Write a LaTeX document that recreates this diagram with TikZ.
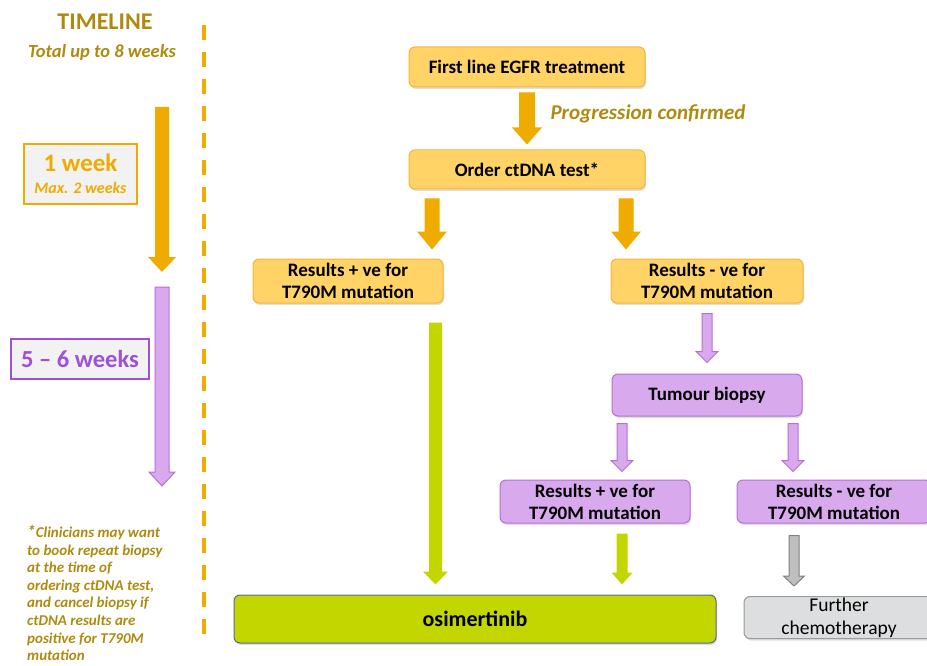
\documentclass[tikz,border=0pt]{standalone}
\usepackage{fontspec}
\setmainfont{Carlito}
\usepackage{tikz}
\usetikzlibrary{calc, shadows, positioning}

\definecolor{boxorange}{HTML}{FFD366}
\definecolor{lineorange}{HTML}{F5B43A}
\definecolor{arroworange}{HTML}{F0AB00}
\definecolor{goldtext}{HTML}{B08A0E}
\definecolor{boxpurple}{HTML}{D9A9EE}
\definecolor{linepurple}{HTML}{B570D8}
\definecolor{textpurple}{HTML}{A04FD6}
\definecolor{osigreen}{HTML}{C4D600}
\definecolor{osiline}{HTML}{4E6E8E}
\definecolor{boxgray}{HTML}{DDDEDF}
\definecolor{linegray}{HTML}{9A9A9A}
\definecolor{arrowgray}{HTML}{BFBFBF}
\definecolor{lightbg}{HTML}{F2F2F2}

% block arrow: style, start, tip, half shaft, half head, head length
\newcommand{\barrow}[6]{%
  \filldraw[#1] let \p1=(#2), \p2=(#3) in
    (\x1-#4,\y1) -- (\x1+#4,\y1) -- (\x1+#4,\y2+#6) -- (\x1+#5,\y2+#6)
    -- (\x1,\y2) -- (\x1-#5,\y2+#6) -- (\x1-#4,\y2+#6) -- cycle;}

\tikzset{
  flowbox/.style={rounded corners=6pt, line width=1pt, inner sep=0pt, align=center,
    font=\fontsize{19}{22}\selectfont\bfseries,
    drop shadow={shadow xshift=1pt, shadow yshift=-2pt, opacity=0.25}},
  obox/.style={flowbox, draw=lineorange, fill=boxorange},
  pbox/.style={flowbox, draw=linepurple, fill=boxpurple},
  oarrow/.style={fill=arroworange, draw=none},
  parrow/.style={fill=boxpurple, draw=linepurple, line width=1pt},
  garrow/.style={fill=osigreen, draw=none},
  grarrow/.style={fill=arrowgray, draw=gray, line width=1pt},
  weekbox/.style={fill=lightbg, line width=2pt, inner sep=0pt, align=center}
}

\begin{document}
\begin{tikzpicture}[x=1pt, y=-1pt]
  \useasboundingbox (0,0) rectangle (927,666);

  % timeline column
  \node[font=\fontsize{24}{26}\selectfont\bfseries, text=goldtext] (tl) at (105,22) {TIMELINE};
  \node[font=\fontsize{18.5}{20}\selectfont\bfseries\itshape, text=goldtext] (tot) at (102,52) {Total up to 8 weeks};
  \draw[arroworange, line width=3.5pt, dash pattern=on 15pt off 12pt] (204,25) -- (204,636);

  \coordinate (t1a) at (162,107);
  \coordinate (t1b) at (162,272);
  \coordinate (t2a) at (162,287);
  \coordinate (t2b) at (162,486);
  \barrow{oarrow}{t1a}{t1b}{7pt}{14pt}{15pt}
  \barrow{parrow}{t2a}{t2b}{7pt}{13pt}{14pt}

  \node[weekbox, draw=arroworange, text=arroworange, minimum width=113pt, minimum height=60pt,
    font=\fontsize{25}{22}\selectfont\bfseries] (wk1) at (80.5,174)
    {1 week\\{\fontsize{16}{18}\selectfont\itshape Max. 2 weeks}};
  \node[weekbox, draw=textpurple, text=textpurple, minimum width=138pt, minimum height=40pt,
    font=\fontsize{24.5}{26}\selectfont\bfseries] (wk2) at (80,359)
    {5 -- 6 weeks};

  \node[anchor=north west, align=left, inner sep=0pt, text=goldtext,
    font=\fontsize{15}{17.6}\selectfont\bfseries\itshape] (note) at (27,525)
    {{\LARGE *}Clinicians may want\\to book repeat biopsy\\at the time of\\ordering ctDNA test,\\and cancel biopsy if\\ctDNA results are\\positive for T790M\\mutation};

  % flow chart
  \node[obox, minimum width=236pt, minimum height=40pt] (first) at (527,67) {First line EGFR treatment};
  \node[obox, minimum width=236pt, minimum height=39pt] (order) at (527,169.5) {Order ctDNA test*};
  \node[obox, minimum width=190pt, minimum height=44pt] (rp1) at (348,281) {Results + ve for\\T790M mutation};
  \node[obox, minimum width=192pt, minimum height=44pt] (rn1) at (707,281) {Results - ve for\\T790M mutation};
  \node[pbox, minimum width=190pt, minimum height=42pt] (bio) at (707,395) {Tumour biopsy};
  \node[pbox, minimum width=190pt, minimum height=43pt] (rp2) at (595,501.5) {Results + ve for\\T790M mutation};
  \node[pbox, minimum width=194pt, minimum height=43pt] (rn2) at (834,501.5) {Results - ve for\\T790M mutation};
  \node[flowbox, draw=osiline, fill=osigreen, font=\fontsize{22}{24}\selectfont\bfseries,
    minimum width=482pt, minimum height=48pt] (osim) at (475,619) {osimertinib};
  \node[flowbox, draw=linegray, fill=boxgray, font=\fontsize{19.5}{23}\selectfont,
    minimum width=190pt, minimum height=42pt] (chemo) at (839,617.5) {Further\\chemotherapy};

  \node[font=\fontsize{21}{23}\selectfont\bfseries\itshape, text=goldtext, anchor=west] (prog) at (547,114) {Progression confirmed};

  \barrow{oarrow}{[yshift=-5pt]first.south}{[yshift=5pt]order.north}{8pt}{15pt}{17pt}
  \barrow{oarrow}{[xshift=-95pt,yshift=-9pt]order.south}{[yshift=9pt]rp1.north}{7.5pt}{15pt}{18pt}
  \barrow{oarrow}{[xshift=99pt,yshift=-9pt]order.south}{[yshift=9pt]rn1.north}{7.5pt}{15pt}{18pt}
  \barrow{garrow}{[xshift=87.5pt,yshift=-19pt]rp1.south}{[yshift=10pt]osim.north}{6.5pt}{12.5pt}{13pt}
  \barrow{parrow}{[yshift=-10pt]rn1.south}{[yshift=11pt]bio.north}{5pt}{11pt}{11pt}
  \barrow{parrow}{[xshift=-85pt,yshift=-7pt]bio.south}{[yshift=8pt]rp2.north}{5pt}{11pt}{11pt}
  \barrow{parrow}{[xshift=86pt,yshift=-7pt]bio.south}{[yshift=8pt]rn2.north}{5pt}{11pt}{11pt}
  \barrow{garrow}{[xshift=27pt,yshift=-10pt]rp2.south}{[yshift=10pt]osim.north}{5.5pt}{10.5pt}{12pt}
  \barrow{grarrow}{[xshift=-40pt,yshift=-12pt]rn2.south}{[yshift=10pt]chemo.north}{5pt}{10.5pt}{10pt}
\end{tikzpicture}
\end{document}
